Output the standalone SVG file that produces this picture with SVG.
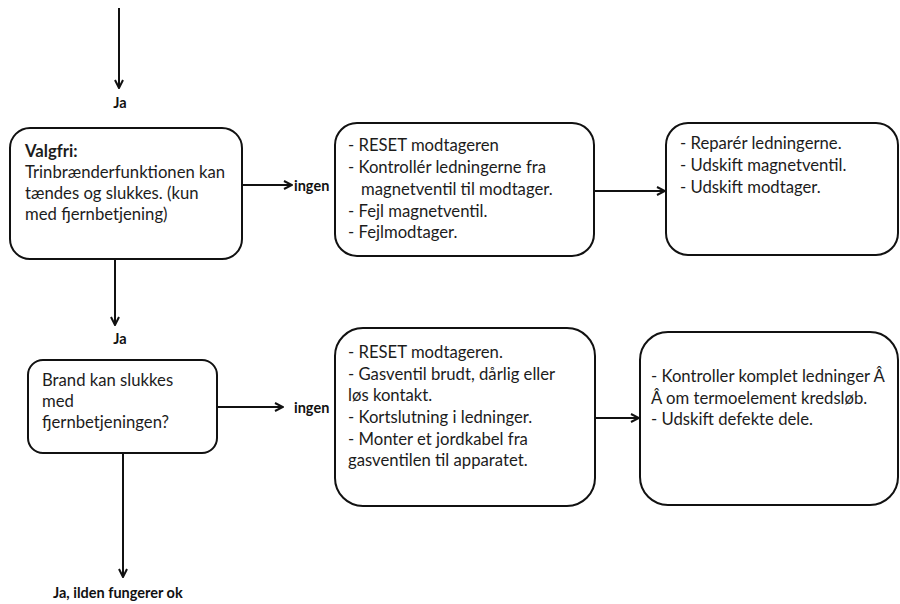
<svg xmlns="http://www.w3.org/2000/svg" width="900" height="604" viewBox="0 0 900 604">
<defs>
<style>
.box{fill:#fff;stroke:#111;stroke-width:2}
.t{font-family:Lato,"Liberation Sans",sans-serif;font-size:16.7px;fill:#1c1c1c}
.b{font-weight:bold}
.lbl{font-family:Lato,"Liberation Sans",sans-serif;font-size:14.5px;font-weight:bold;fill:#111}
.c{stroke:#111;stroke-width:2;fill:none;marker-end:url(#ah)}
</style>
<marker id="ah" viewBox="0 0 10 10" refX="9" refY="5" markerWidth="10" markerHeight="10" markerUnits="userSpaceOnUse" orient="auto">
<path d="M1,1 L9,5 L1,9" fill="none" stroke="#111" stroke-width="2"/>
</marker>
</defs>
<rect width="900" height="604" fill="#fff"/>
<g id="connectors">
<line class="c" x1="119" y1="8" x2="119" y2="88"/>
<line class="c" x1="242" y1="185" x2="292" y2="185"/>
<line class="c" x1="594" y1="191" x2="665" y2="191"/>
<line class="c" x1="115" y1="259" x2="115" y2="325"/>
<line class="c" x1="217" y1="407" x2="283" y2="407"/>
<line class="c" x1="595" y1="418" x2="639" y2="418"/>
<line class="c" x1="123" y1="453" x2="123" y2="577"/>
<text class="lbl" x="120" y="108" text-anchor="middle">Ja</text>
<text class="lbl" x="294" y="191">ingen</text>
<text class="lbl" x="120" y="344" text-anchor="middle">Ja</text>
<text class="lbl" x="294" y="413">ingen</text>
<text class="lbl" x="53" y="598">Ja, ilden fungerer ok</text>
</g>
<g id="node1">
<rect class="box" x="10" y="128" width="232" height="131" rx="20"/>
<text class="t b" x="25" y="157">Valgfri:</text>
<text class="t" x="25" y="178">Trinbrænderfunktionen kan</text>
<text class="t" x="25" y="199">tændes og slukkes. (kun</text>
<text class="t" x="25" y="220">med fjernbetjening)</text>
</g>
<g id="node2">
<rect class="box" x="335" y="123" width="259" height="133" rx="22"/>
<text class="t" x="348" y="151">- RESET modtageren</text>
<text class="t" x="348" y="173">- Kontrollér ledningerne fra</text>
<text class="t" x="361" y="195">magnetventil til modtager.</text>
<text class="t" x="348" y="217">- Fejl magnetventil.</text>
<text class="t" x="348" y="238">- Fejlmodtager.</text>
</g>
<g id="node3">
<rect class="box" x="666" y="123" width="232" height="132" rx="22"/>
<text class="t" x="680" y="149">- Reparér ledningerne.</text>
<text class="t" x="680" y="171">- Udskift magnetventil.</text>
<text class="t" x="680" y="193">- Udskift modtager.</text>
</g>
<g id="node4">
<rect class="box" x="28" y="360" width="189" height="93" rx="15"/>
<text class="t" x="42" y="386">Brand kan slukkes</text>
<text class="t" x="42" y="407">med</text>
<text class="t" x="42" y="428">fjernbetjeningen?</text>
</g>
<g id="node5">
<rect class="box" x="335" y="328" width="260" height="178" rx="28"/>
<text class="t" x="348" y="358">- RESET modtageren.</text>
<text class="t" x="348" y="380">- Gasventil brudt, dårlig eller</text>
<text class="t" x="348" y="401">løs kontakt.</text>
<text class="t" x="348" y="423">- Kortslutning i ledninger.</text>
<text class="t" x="348" y="445">- Monter et jordkabel fra</text>
<text class="t" x="348" y="466">gasventilen til apparatet.</text>
</g>
<g id="node6">
<rect class="box" x="640" y="332" width="258" height="173" rx="28"/>
<text class="t" x="651" y="382">- Kontroller komplet ledninger Â</text>
<text class="t" x="651" y="404">Â om termoelement kredsløb.</text>
<text class="t" x="651" y="425">- Udskift defekte dele.</text>
</g>
</svg>
